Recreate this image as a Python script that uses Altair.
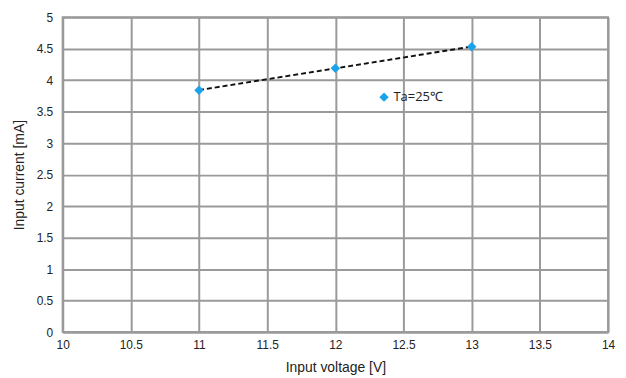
import altair as alt
import pandas as pd

voltage = [11, 12, 13]
current = [3.84, 4.19, 4.53]
series = ["Ta=25℃"] * 3
x_ticks = [10, 10.5, 11, 11.5, 12, 12.5, 13, 13.5, 14]
y_ticks = [0, 0.5, 1, 1.5, 2, 2.5, 3, 3.5, 4, 4.5, 5]

df = pd.DataFrame({"V": voltage, "I": current, "s": series})

xs = alt.Scale(domain=[10, 14], nice=False, zero=False)
ys = alt.Scale(domain=[0, 5], nice=False)

xax = alt.Axis(values=x_ticks, title="Input voltage [V]", grid=True, ticks=False, format="~g",
               labelFont="Liberation Sans", labelFontSize=12, labelColor="#222",
               titleFont="Liberation Sans", titleFontSize=14, titleFontWeight="normal",
               titleColor="#222", labelPadding=8, titlePadding=10,
               gridColor="#9a9a9a", gridWidth=2, domainColor="#9a9a9a", domainWidth=2,
               labelFlush=False, labelOverlap=False)
yax = alt.Axis(values=y_ticks, title="Input current [mA]", grid=True, ticks=False, format="~g",
               labelFont="Liberation Sans", labelFontSize=12, labelColor="#222",
               titleFont="Liberation Sans", titleFontSize=14, titleFontWeight="normal",
               titleColor="#222", labelPadding=10, titlePadding=10,
               gridColor="#9a9a9a", gridWidth=2, domainColor="#9a9a9a", domainWidth=2,
               labelFlush=False, labelOverlap=False)

base = alt.Chart(df)

line = base.transform_regression("V", "I").mark_line(
    color="#111", strokeDash=[5, 3], strokeWidth=2
).encode(x=alt.X("V:Q", scale=xs, axis=xax), y=alt.Y("I:Q", scale=ys, axis=yax))

pts = base.mark_point(shape="diamond", filled=True, size=90, opacity=1).encode(
    x=alt.X("V:Q", scale=xs, axis=xax),
    y=alt.Y("I:Q", scale=ys, axis=yax),
    color=alt.Color("s:N", scale=alt.Scale(range=["#1aa3e8"]),
                    legend=alt.Legend(title=None, orient="none", legendX=317, legendY=74,
                                      labelFont="Open Sans", labelFontSize=13,
                                      labelColor="#222", symbolSize=90,
                                      symbolType="diamond", labelOffset=3)),
)

chart = alt.layer(line, pts).properties(
    width=549, height=317,
    autosize=alt.AutoSizeParams(type="none"),
    padding={"left": 55, "top": 8, "right": 10, "bottom": 50},
).configure_view(stroke="#9a9a9a", strokeWidth=2)

chart.save("out.html", embed_options={"renderer": "svg", "actions": False})
